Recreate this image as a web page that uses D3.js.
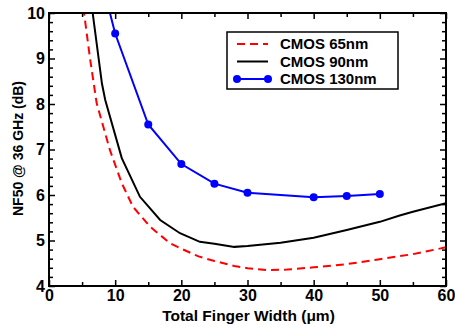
<!DOCTYPE html>
<html>
<head>
<meta charset="utf-8">
<script src="https://cdn.jsdelivr.net/npm/d3@7"></script>
<style>
  body { margin: 0; background: #fff; }
  svg text { font-family: "Liberation Sans", Arial, Helvetica, sans-serif; font-weight: bold; }
  .axis path { display: none; }
  .axis line { stroke: #000; stroke-width: 1.5; }
</style>
</head>
<body>
<div id="chart"></div>
<script>
// CMOS 65nm (red dashed)
var w65 = [5, 5.3, 6.2, 7.2, 9.2, 11, 12.7, 15.3, 18.3, 20, 22.6, 25, 28, 30, 33, 36, 40, 45, 50, 55, 60];
var nf65 = [10.4, 10, 9.0, 8.02, 6.99, 6.26, 5.74, 5.30, 4.94, 4.82, 4.65, 4.55, 4.44, 4.39, 4.35, 4.36, 4.41, 4.48, 4.59, 4.70, 4.85];

// CMOS 90nm (black)
var w90 = [6.2, 6.6, 8, 8.5, 11, 13.75, 16.8, 19.8, 22.8, 25, 28, 30, 35, 40, 45, 50, 53, 55, 60];
var nf90 = [10.5, 10.0, 8.45, 8.09, 6.81, 5.96, 5.45, 5.16, 4.97, 4.93, 4.86, 4.88, 4.95, 5.06, 5.23, 5.41, 5.55, 5.63, 5.82];

// CMOS 130nm (blue, with markers)
var w130 = [5, 10, 15, 20, 25, 30, 40, 45, 50];
var nf130 = [12.4, 9.55, 7.55, 6.68, 6.25, 6.05, 5.95, 5.98, 6.02];

var xTicks = [0, 10, 20, 30, 40, 50, 60];
var yTicks = [4, 5, 6, 7, 8, 9, 10];

var series = [
  { name: "CMOS 65nm", x: w65, y: nf65, color: "#ff0000", dash: "8,5", dots: false },
  { name: "CMOS 90nm", x: w90, y: nf90, color: "#000000", dash: null, dots: false },
  { name: "CMOS 130nm", x: w130, y: nf130, color: "#0000ff", dash: null, dots: true }
];

var margin = {top: 13, right: 9, bottom: 41, left: 49},
    width = 455 - margin.left - margin.right,
    height = 327 - margin.top - margin.bottom;

var svg = d3.select("#chart").append("svg")
    .attr("width", width + margin.left + margin.right)
    .attr("height", height + margin.top + margin.bottom)
  .append("g")
    .attr("transform", "translate(" + margin.left + "," + margin.top + ")");

var xScale = d3.scaleLinear().domain([0, 60]).range([0, width]);
var yScale = d3.scaleLinear().domain([4, 10]).range([height, 0]);

var xMinor = d3.range(0, 61, 5).filter(function(d) { return d % 10 != 0; });
var yMinor = d3.range(40, 101, 2).map(function(d) { return d / 10; }).filter(function(d) { return Math.abs(d - Math.round(d)) > 0.01; });

// bottom axis with labels
svg.append("g")
    .attr("class", "x axis")
    .attr("transform", "translate(0," + height + ")")
    .call(d3.axisBottom(xScale).tickValues(xTicks).tickFormat(d3.format("d")).tickSizeInner(-6).tickSizeOuter(0).tickPadding(4))
    .selectAll("text").style("font-size", "16px").style("fill", "#000");
svg.append("g")
    .attr("class", "axis")
    .attr("transform", "translate(0," + height + ")")
    .call(d3.axisBottom(xScale).tickValues(xMinor).tickSizeInner(-4).tickSizeOuter(0).tickFormat(""));
// top axis ticks only
svg.append("g")
    .attr("class", "axis")
    .call(d3.axisTop(xScale).tickValues(xTicks).tickSizeInner(-6).tickSizeOuter(0).tickFormat(""));
svg.append("g")
    .attr("class", "axis")
    .call(d3.axisTop(xScale).tickValues(xMinor).tickSizeInner(-4).tickSizeOuter(0).tickFormat(""));

// left axis with labels
svg.append("g")
    .attr("class", "y axis")
    .call(d3.axisLeft(yScale).tickValues(yTicks).tickFormat(d3.format("d")).tickSizeInner(-6).tickSizeOuter(0).tickPadding(4))
    .selectAll("text").style("font-size", "16px").style("fill", "#000");
svg.append("g")
    .attr("class", "axis")
    .call(d3.axisLeft(yScale).tickValues(yMinor).tickSizeInner(-4).tickSizeOuter(0).tickFormat(""));
// right axis ticks only
svg.append("g")
    .attr("class", "axis")
    .attr("transform", "translate(" + width + ",0)")
    .call(d3.axisRight(yScale).tickValues(yTicks).tickSizeInner(-6).tickSizeOuter(0).tickFormat(""));
svg.append("g")
    .attr("class", "axis")
    .attr("transform", "translate(" + width + ",0)")
    .call(d3.axisRight(yScale).tickValues(yMinor).tickSizeInner(-4).tickSizeOuter(0).tickFormat(""));

// clip so curves stop at the frame
svg.append("clipPath").attr("id", "plotclip")
  .append("rect").attr("x", 0).attr("y", 0).attr("width", width).attr("height", height);

var plot = svg.append("g").attr("clip-path", "url(#plotclip)");

var line = d3.line()
    .x(function(d) { return xScale(d[0]); })
    .y(function(d) { return yScale(d[1]); });

series.forEach(function(s) {
  var pts = s.x.map(function(v, i) { return [v, s.y[i]]; });
  plot.append("path")
      .datum(pts)
      .attr("fill", "none")
      .attr("stroke", s.color)
      .attr("stroke-width", 2)
      .attr("stroke-dasharray", s.dash)
      .attr("d", line);
  if (s.dots) {
    plot.selectAll(".dot-blue")
        .data(pts)
        .enter().append("circle")
        .attr("class", "dot-blue")
        .attr("cx", function(d) { return xScale(d[0]); })
        .attr("cy", function(d) { return yScale(d[1]); })
        .attr("r", 4)
        .attr("fill", s.color);
  }
});

// frame
svg.append("rect")
    .attr("x", 0).attr("y", 0)
    .attr("width", width).attr("height", height)
    .style("fill", "none").style("stroke", "#000").style("stroke-width", 2);

// axis titles
svg.append("text")
    .attr("x", width / 2 + 1)
    .attr("y", height + 35)
    .style("font-size", "15.5px")
    .style("text-anchor", "middle")
    .text("Total Finger Width (\u03bcm)");

svg.append("text")
    .attr("transform", "rotate(-90)")
    .attr("x", -height / 2 + 1)
    .attr("y", -26)
    .style("font-size", "14px")
    .style("text-anchor", "middle")
    .text("NF50 @ 36 GHz (dB)");

// legend
var lg = svg.append("g").attr("transform", "translate(" + (227 - margin.left) + "," + (32 - margin.top) + ")");
lg.append("rect")
    .attr("width", 171).attr("height", 57)
    .style("fill", "#fff").style("stroke", "#000").style("stroke-width", 1.5);
series.forEach(function(s, i) {
  var yy = 12 + i * 17.5;
  lg.append("line")
      .attr("x1", 10).attr("x2", 41)
      .attr("y1", yy).attr("y2", yy)
      .attr("stroke", s.color).attr("stroke-width", 2)
      .attr("stroke-dasharray", s.dash);
  if (s.dots) {
    [10, 41].forEach(function(cx) {
      lg.append("circle").attr("cx", cx).attr("cy", yy).attr("r", 4).attr("fill", s.color);
    });
  }
  lg.append("text")
      .attr("x", 53).attr("y", yy)
      .attr("dy", "0.36em")
      .style("font-size", "15px")
      .text(s.name);
});
</script>
</body>
</html>
